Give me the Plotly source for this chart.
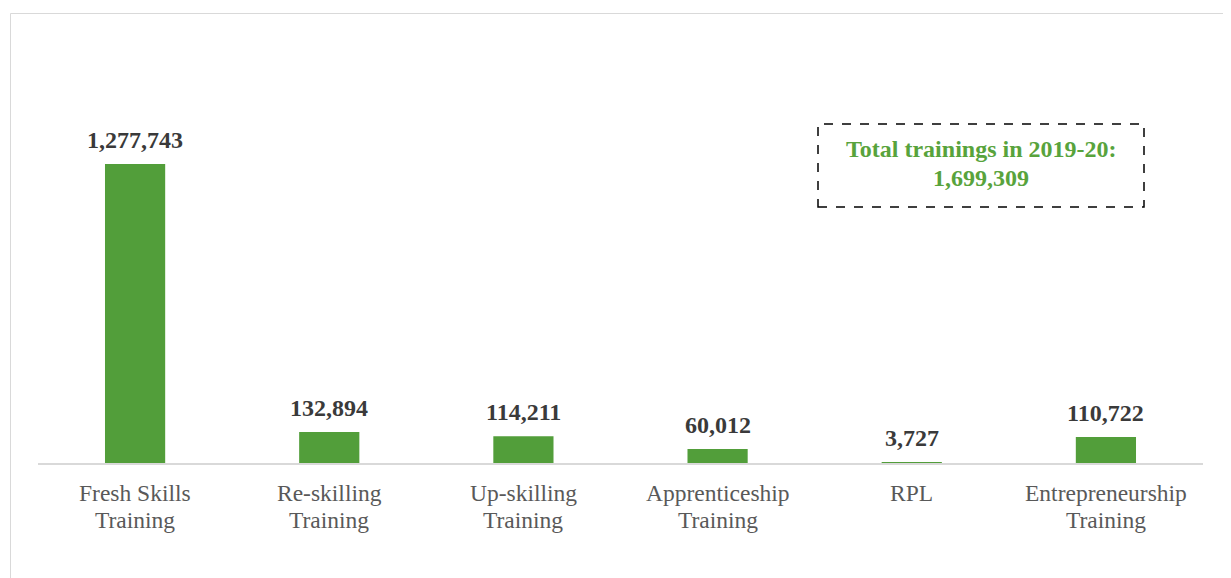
import plotly.graph_objects as go

categories = ["Fresh Skills<br>Training", "Re-skilling<br>Training", "Up-skilling<br>Training",
              "Apprenticeship<br>Training", "RPL", "Entrepreneurship<br>Training"]
values = [1277743, 132894, 114211, 60012, 3727, 110722]
total_label = "Total trainings in 2019-20:<br>1,699,309"

GREEN = "#529E3A"
FONT = "Liberation Serif, Times New Roman, serif"

W, H = 1231, 578
OFF = 8  # page body offset
ml, mr, mt, mb = 38 - OFF, 28 + OFF, 40 - OFF, 115 + OFF
pw = W - ml - mr
ph = H - mt - mb

def px(x):
    return (x - OFF - ml) / pw

def py(y):
    return (H - mb - (y - OFF)) / ph

fig = go.Figure()
fig.add_trace(go.Bar(x=categories, y=values, marker_color=GREEN, marker_line_width=0,
                     width=0.31, hoverinfo="skip"))

for c, v in zip(categories, values):
    fig.add_annotation(x=c, y=v, xref="x", yref="y", text=f"<b>{v:,}</b>", showarrow=False,
                       yanchor="bottom", yshift=9,
                       font=dict(family=FONT, size=24, color="#3A3A3A"))
    for i, line in enumerate(c.split("<br>")):
        fig.add_annotation(x=c, y=py(493 + 27 * i), xref="x", yref="paper", text=line,
                           showarrow=False, yanchor="middle",
                           font=dict(family=FONT, size=23.5, color="#595959"))

fig.add_shape(type="rect", xref="paper", yref="paper",
              x0=px(818), x1=px(1144), y0=py(207), y1=py(124),
              line=dict(color="black", width=1.5, dash="dash"))
for i, line in enumerate(total_label.split("<br>")):
    fig.add_annotation(xref="paper", yref="paper", x=px(981), y=py(149 + 29 * i),
                       text=f"<b>{line}</b>", showarrow=False, xanchor="center", yanchor="middle",
                       font=dict(family=FONT, size=24, color="#58A33C"))

# outer chart border
fig.add_shape(type="rect", xref="paper", yref="paper",
              x0=px(10.5), x1=px(1260), y0=py(600), y1=py(13.5),
              line=dict(color="#D9D9D9", width=1))

fig.update_layout(
    width=W, height=H,
    margin=dict(l=ml, r=mr, t=mt, b=mb),
    paper_bgcolor="white", plot_bgcolor="white",
    showlegend=False,
    xaxis=dict(showline=True, linecolor="#D9D9D9", linewidth=1.5, ticks="",
               showticklabels=False, showgrid=False),
    yaxis=dict(range=[0, ph * 1277743 / 299], visible=False, showgrid=False, zeroline=False),
)

fig.write_html("out.html")
